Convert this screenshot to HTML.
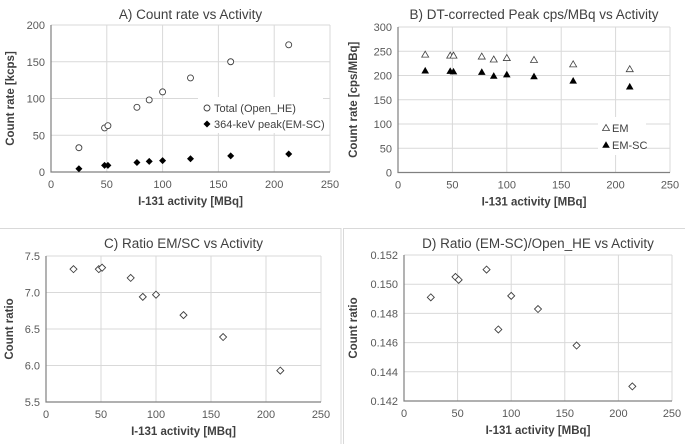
<!DOCTYPE html>
<html><head><meta charset="utf-8"><style>
body{margin:0;background:#fff;}
svg{display:block;font-family:"Liberation Sans",sans-serif;}
</style></head><body>
<svg id="s" width="685" height="444" viewBox="0 0 685 444">
<rect x="0" y="0" width="685" height="444" fill="#fff"/>
<rect x="-1" y="228.5" width="342" height="220" fill="none" stroke="#d9d9d9"/>
<rect x="343.5" y="228.5" width="345" height="220" fill="none" stroke="#d9d9d9"/>
</svg>
<script>
const xVals=[25,48,51,77,88,100,125,161,213];
const aTotal=[33,60,63,88,98,109,128,150,173];
const aPeak=[4.5,9,9,13,14.5,15.5,18,22,24.5];
const bEM=[243,241,241,239,233,236,232,223,213];
const bEMSC=[210,209,208,207,199,202,198,189,177];
const cRatio=[7.32,7.32,7.34,7.2,6.94,6.97,6.69,6.39,5.93];
const dRatio=[0.1491,0.1505,0.1503,0.1510,0.1469,0.1492,0.1483,0.1458,0.1430];
const xTicks=[0,50,100,150,200,250];
const aTicks=[0,50,100,150,200];
const bTicks=[0,50,100,150,200,250,300];
const cTicks=[5.5,6.0,6.5,7.0,7.5];
const dTicks=[0.142,0.144,0.146,0.148,0.150,0.152];

const NS="http://www.w3.org/2000/svg";
const svg=document.getElementById('s');
function mk(tag,attrs,parent){const e=document.createElementNS(NS,tag);for(const k in attrs)e.setAttribute(k,attrs[k]);(parent||svg).appendChild(e);return e;}
function txt(s,attrs,parent){const e=mk('text',attrs,parent);e.textContent=s;return e;}

function panel(cfg){
  const g=mk('g',{});
  
  
  const L=cfg.L,R=cfg.R,T=cfg.T,B=cfg.B;
  const ymin=cfg.yt[0],ymax=cfg.yt[cfg.yt.length-1];
  const sx=v=>L+(v-0)/250*(R-L);
  const sy=v=>B-(v-ymin)/(ymax-ymin)*(B-T);
  cfg.yt.forEach(t=>{
    if(t!==ymin){const gl=mk('line',{x1:L,x2:R,y1:sy(t),y2:sy(t),stroke:'#d9d9d9','stroke-width':1},g);
    }
    const tl=txt(cfg.fmt(t),{x:L-6,y:sy(t)+4,'text-anchor':'end','font-size':11,fill:'#595959'},g);
    
  });
  xTicks.forEach(t=>{
    if(t!==0){const gl=mk('line',{x1:sx(t),x2:sx(t),y1:T,y2:B,stroke:'#d9d9d9','stroke-width':1},g);
    }
    const tl=txt(String(t),{x:sx(t),y:B+16,'text-anchor':'middle','font-size':11,fill:'#595959'},g);
    
  });
  const ax=mk('path',{d:`M${L} ${T}V${B}H${R}`,fill:'none',stroke:'#808080','stroke-width':1.2},g);
  
  const ti=txt(cfg.title,{x:(L+R)/2,y:cfg.titleY,'text-anchor':'middle','font-size':13.5,fill:'#404040'},g);
  
  const xt=txt('I-131 activity [MBq]',{x:(L+R)/2,y:B+33,'text-anchor':'middle','font-size':11.5,'font-weight':'bold',fill:'#404040'},g);
  
  const yx=cfg.yTitleX,ym=(T+B)/2;
  const yt=txt(cfg.ytitle,{x:yx,y:ym,'text-anchor':'middle','font-size':11.5,'font-weight':'bold',fill:'#404040',transform:`rotate(-90 ${yx} ${ym})`},g);
  
  cfg.series.forEach(s=>{
    s.vals.forEach((v,i)=>{
      const m=marker(s.shape,sx(xVals[i]),sy(v),g);
      
      
    });
  });
  return g;
}
function marker(shape,x,y,g){
  if(shape==='circle')return mk('circle',{cx:x,cy:y,r:3,fill:'#fff',stroke:'#404040','stroke-width':0.9},g);
  if(shape==='dfill')return mk('path',{d:`M${x} ${y-3.5}L${x+3.5} ${y}L${x} ${y+3.5}L${x-3.5} ${y}Z`,fill:'#000'},g);
  if(shape==='dopen')return mk('path',{d:`M${x} ${y-3.5}L${x+3.5} ${y}L${x} ${y+3.5}L${x-3.5} ${y}Z`,fill:'#fff',stroke:'#404040','stroke-width':0.9},g);
  if(shape==='topen')return mk('path',{d:`M${x} ${y-3.5}L${x+3.5} ${y+2.5}L${x-3.5} ${y+2.5}Z`,fill:'#fff',stroke:'#404040','stroke-width':0.8},g);
  return mk('path',{d:`M${x} ${y-3.8}L${x+3.8} ${y+2.8}L${x-3.8} ${y+2.8}Z`,fill:'#000'},g);
}
panel({name:'chart-a',L:51,R:330,T:25,B:172,yt:aTicks,fmt:t=>String(t),title:'A)  Count rate vs Activity',titleY:19,ytitle:'Count rate [kcps]',yTitleX:14,
  series:[{name:'total-open-he',shape:'circle',vals:aTotal},{name:'peak-em-sc',shape:'dfill',vals:aPeak}]});
panel({name:'chart-b',L:398,R:670,T:27,B:172.5,yt:bTicks,fmt:t=>String(t),title:'B)  DT-corrected Peak cps/MBq vs Activity',titleY:19,ytitle:'Count rate [cps/MBq]',yTitleX:357,
  series:[{name:'em',shape:'topen',vals:bEM},{name:'em-sc',shape:'tfill',vals:bEMSC}]});
panel({name:'chart-c',L:46,R:321,T:256,B:402,yt:cTicks,fmt:t=>t.toFixed(1),title:'C)  Ratio EM/SC vs Activity',titleY:248,ytitle:'Count ratio',yTitleX:13,
  series:[{name:'ratio-em-sc',shape:'dopen',vals:cRatio}]});
panel({name:'chart-d',L:404,R:672,T:255,B:401,yt:dTicks,fmt:t=>t.toFixed(3),title:'D)  Ratio (EM-SC)/Open_HE vs Activity',titleY:248,ytitle:'Count ratio',yTitleX:357,
  series:[{name:'ratio-emsc-openhe',shape:'dopen',vals:dRatio}]});

const la=mk('g',{});


mk('rect',{x:198,y:97,width:125,height:36,fill:'#fff'},la);
marker('circle',207,108,la);
txt('Total (Open_HE)',{x:214,y:112,'font-size':11,fill:'#404040'},la);
marker('dfill',207,124,la);
txt('364-keV peak(EM-SC)',{x:214,y:128,'font-size':11,fill:'#404040'},la);
const lb=mk('g',{});


mk('rect',{x:598,y:117,width:48,height:38,fill:'#fff'},lb);
marker('topen',606,128,lb);
txt('EM',{x:612,y:132,'font-size':11,fill:'#404040'},lb);
marker('tfill',606,145,lb);
txt('EM-SC',{x:612,y:149,'font-size':11,fill:'#404040'},lb);
</script>
</body></html>
